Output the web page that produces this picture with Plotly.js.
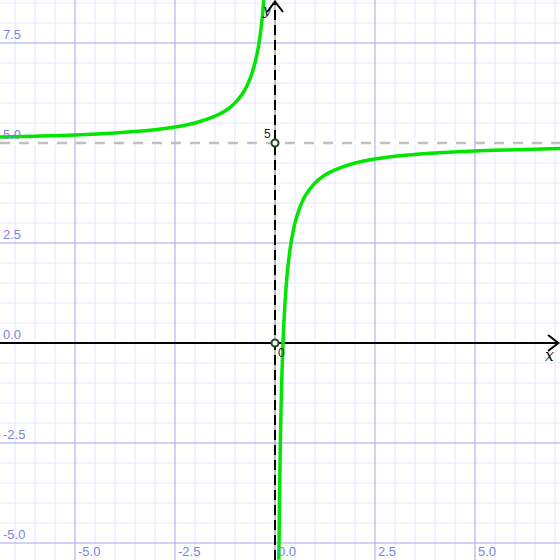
<!DOCTYPE html>
<html>
<head>
<meta charset="utf-8">
<script src="https://cdn.plot.ly/plotly-3.0.1.min.js"></script>
<style>html,body{margin:0;padding:0;background:#fff}#chart{width:560px;height:560px}</style>
</head>
<body>
<div id="chart"></div>
<script>
// Left branch (x < 0)
const leftX = [-6.875, -6, -5, -4, -3, -2.5, -2, -1.5, -1.25, -1, -0.8, -0.7, -0.6, -0.5, -0.45, -0.4, -0.35, -0.32, -0.3, -0.28];
const leftY = [5.15, 5.17, 5.2, 5.25, 5.33, 5.4, 5.5, 5.67, 5.8, 6.0, 6.25, 6.43, 6.67, 7.0, 7.22, 7.5, 7.86, 8.13, 8.33, 8.57];
// Right branch (x > 0)
const rightX = [0.096, 0.11, 0.13, 0.15, 0.17, 0.2, 0.25, 0.3, 0.35, 0.4, 0.5, 0.6, 0.75, 1, 1.25, 1.5, 2, 2.5, 3, 4, 5, 6, 7.125];
const rightY = [-5.42, -4.1, -2.7, -1.67, -0.88, 0, 1.0, 1.67, 2.14, 2.5, 3.0, 3.33, 3.67, 4.0, 4.2, 4.33, 4.5, 4.6, 4.67, 4.75, 4.8, 4.83, 4.86];
// Special points
const pointX = [0, 0];
const pointY = [5, 0];
const pointLabels = ["5", "0"];
// Asymptotes
const hAsymptote = 5;
const vAsymptote = 0;
// Tick labels
const xTickVals = [-5, -2.5, 0, 2.5, 5];
const xTickText = ["-5.0", "-2.5", "0.0", "2.5", "5.0"];
const yTickVals = [-5, -2.5, 0, 2.5, 5, 7.5];
const yTickText = ["-5.0", "-2.5", "0.0", "2.5", "5.0", "7.5"];

const xr = [-6.875, 7.125];
const yr = [-5.425, 8.575];
const tickColor = '#8282e2';
const majorColor = '#a4a4ef';
const minorColor = '#e2e7ff';

const traces = [
  {x: leftX, y: leftY, mode: 'lines', line: {color: '#00e600', width: 3.5, shape: 'spline'}, hoverinfo: 'skip'},
  {x: rightX, y: rightY, mode: 'lines', line: {color: '#00e600', width: 3.5, shape: 'spline'}, hoverinfo: 'skip'},
  {x: pointX, y: pointY, mode: 'markers', marker: {symbol: 'circle', size: 7, color: '#ffffff', line: {color: '#1e4d1e', width: 2}}, hoverinfo: 'skip'}
];

const shapes = [];
// grid lines (minor every 0.5, major every 2.5)
for (let k = Math.ceil(xr[0] / 0.5); k * 0.5 <= xr[1]; k++) {
  const v = k * 0.5;
  if (k % 5 !== 0) shapes.push({type: 'line', xref: 'x', yref: 'paper', x0: v, x1: v, y0: 0, y1: 1, line: {color: minorColor, width: 1}, layer: 'below'});
}
for (let k = Math.ceil(yr[0] / 0.5); k * 0.5 <= yr[1]; k++) {
  const v = k * 0.5;
  if (k % 5 !== 0) shapes.push({type: 'line', xref: 'paper', yref: 'y', x0: 0, x1: 1, y0: v, y1: v, line: {color: minorColor, width: 1}, layer: 'below'});
}
yTickVals.forEach(v => shapes.push({type: 'line', xref: 'paper', yref: 'y', x0: 0, x1: 1, y0: v, y1: v, line: {color: v === hAsymptote ? '#ffffff' : majorColor, width: v === hAsymptote ? 3 : 1}, layer: 'below'}));
xTickVals.forEach(v => shapes.push({type: 'line', xref: 'x', yref: 'paper', x0: v, x1: v, y0: 0, y1: 1, line: {color: majorColor, width: 1}, layer: 'below'}));

shapes.push(
  // horizontal asymptote
  {type: 'line', xref: 'x', yref: 'y', x0: xr[0], x1: xr[1], y0: hAsymptote, y1: hAsymptote, line: {color: '#c0c0c0', width: 2.5, dash: '10px,9px'}, layer: 'below'},
  // vertical asymptote (gray) under y axis
  {type: 'line', xref: 'x', yref: 'y', x0: vAsymptote, x1: vAsymptote, y0: yr[0], y1: yr[1], line: {color: '#bdbdbd', width: 2}, layer: 'below'},
  // x axis
  {type: 'line', xref: 'x', yref: 'y', x0: xr[0], x1: xr[1] - 0.03, y0: 0, y1: 0, line: {color: '#000', width: 2}, layer: 'between'},
  // y axis dashed
  {type: 'line', xref: 'x', yref: 'y', x0: 0, x1: 0, y0: yr[0], y1: yr[1] - 0.03, line: {color: '#000', width: 2, dash: '10px,5px'}, layer: 'between'},
  // x arrow head
  {type: 'path', xref: 'x', yref: 'y', path: `M ${xr[1]-0.3} 0.2 L ${xr[1]-0.04} 0 L ${xr[1]-0.3} -0.2`, line: {color: '#000', width: 2}, layer: 'between'},
  // y arrow head
  {type: 'path', xref: 'x', yref: 'y', path: `M -0.2 ${yr[1]-0.3} L 0 ${yr[1]-0.04} L 0.2 ${yr[1]-0.3}`, line: {color: '#000', width: 2}, layer: 'between'}
);

const annotations = [];
const tickFont = {family: 'Arial, Liberation Sans, sans-serif', size: 13, color: tickColor};
// y label drawn first (partly hidden by the curve in the reference)
annotations.push({x: 0, y: yr[1], xref: 'x', yref: 'y', text: '<i>y</i>', showarrow: false, xanchor: 'right', yanchor: 'top', xshift: -1, yshift: 0, font: {family: 'DejaVu Serif, serif', size: 14, color: '#111'}});
xTickVals.forEach((v, i) => annotations.push({x: v, y: yr[0], xref: 'x', yref: 'y', text: xTickText[i], showarrow: false, xanchor: 'left', yanchor: 'bottom', xshift: 1, yshift: -1, font: tickFont}));
yTickVals.forEach((v, i) => annotations.push({x: xr[0], y: v, xref: 'x', yref: 'y', text: yTickText[i], showarrow: false, xanchor: 'left', yanchor: 'bottom', xshift: 1, yshift: -1, font: tickFont}));
annotations.push({x: pointX[0], y: pointY[0], xref: 'x', yref: 'y', text: pointLabels[0], showarrow: false, xanchor: 'right', yanchor: 'bottom', xshift: -2, yshift: 0, font: {family: 'Arial, Liberation Sans, sans-serif', size: 12, color: '#222'}});
annotations.push({x: pointX[1], y: pointY[1], xref: 'x', yref: 'y', text: pointLabels[1], showarrow: false, xanchor: 'left', yanchor: 'top', xshift: 1, yshift: -1, font: {family: 'Arial, Liberation Sans, sans-serif', size: 12, color: '#222'}});
annotations.push({x: xr[1], y: 0, xref: 'x', yref: 'y', text: '<i>x</i>', showarrow: false, xanchor: 'right', yanchor: 'top', xshift: -4, yshift: -1, font: {family: 'DejaVu Serif, serif', size: 16, color: '#111'}});

const axisCommon = {
  showgrid: false, showticklabels: false, ticks: '', zeroline: false, showline: false, fixedrange: true
};

const layout = {
  width: 560, height: 560,
  margin: {l: 0, r: 0, t: 0, b: 0},
  paper_bgcolor: '#ffffff', plot_bgcolor: '#ffffff',
  showlegend: false,
  xaxis: Object.assign({}, axisCommon, {range: xr}),
  yaxis: Object.assign({}, axisCommon, {range: yr}),
  annotations: annotations,
  shapes: shapes
};

Plotly.newPlot('chart', traces, layout, {staticPlot: true, displayModeBar: false});
</script>
</body>
</html>
